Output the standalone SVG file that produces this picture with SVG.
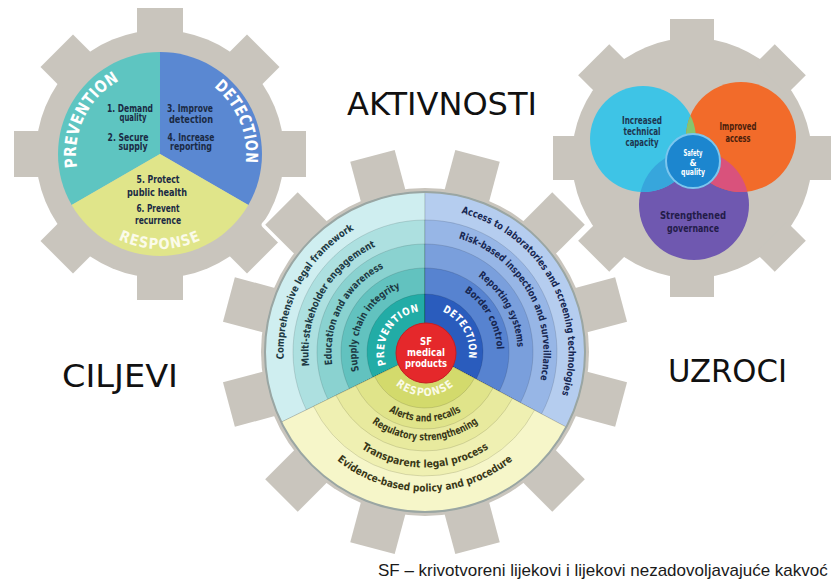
<svg xmlns="http://www.w3.org/2000/svg" width="838" height="581" viewBox="0 0 838 581">
<style>
.gear{fill:#c9c5bd}
.cond{font-family:"Liberation Sans Narrow","DejaVu Sans Condensed","Liberation Sans",sans-serif;font-stretch:condensed;font-weight:bold}
.mid{text-anchor:middle}
.ring{font-size:10px}
.tp{fill:#1d3a44}
.td{fill:#172752}
.tr{fill:#3a3818}
.band{stroke:#000;stroke-opacity:.12;stroke-width:1}
.lbl{fill:#fff}
.seg{font-size:10px;fill:#1a2a44}
.big{font-family:"DejaVu Sans",Verdana,sans-serif;font-size:32px;fill:#111}
</style>
<defs>
<g id="lg"><circle r="124"/><rect x="116" y="-23" width="30" height="46"/><rect x="116" y="-23" width="30" height="46" transform="rotate(45)"/><rect x="116" y="-23" width="30" height="46" transform="rotate(90)"/><rect x="116" y="-23" width="30" height="46" transform="rotate(135)"/><rect x="116" y="-23" width="30" height="46" transform="rotate(180)"/><rect x="116" y="-23" width="30" height="46" transform="rotate(225)"/><rect x="116" y="-23" width="30" height="46" transform="rotate(270)"/><rect x="116" y="-23" width="30" height="46" transform="rotate(315)"/></g>
<g id="rg"><circle r="120"/><rect x="112" y="-22" width="27" height="44"/><rect x="112" y="-22" width="27" height="44" transform="rotate(45)"/><rect x="112" y="-22" width="27" height="44" transform="rotate(90)"/><rect x="112" y="-22" width="27" height="44" transform="rotate(135)"/><rect x="112" y="-22" width="27" height="44" transform="rotate(180)"/><rect x="112" y="-22" width="27" height="44" transform="rotate(225)"/><rect x="112" y="-22" width="27" height="44" transform="rotate(270)"/><rect x="112" y="-22" width="27" height="44" transform="rotate(315)"/></g>
<g id="bg"><circle r="164"/><rect x="156" y="-23" width="47" height="46" transform="rotate(15)"/><rect x="156" y="-23" width="47" height="46" transform="rotate(45)"/><rect x="156" y="-23" width="47" height="46" transform="rotate(75)"/><rect x="156" y="-23" width="47" height="46" transform="rotate(105)"/><rect x="156" y="-23" width="47" height="46" transform="rotate(135)"/><rect x="156" y="-23" width="47" height="46" transform="rotate(165)"/><rect x="156" y="-23" width="47" height="46" transform="rotate(195)"/><rect x="156" y="-23" width="47" height="46" transform="rotate(225)"/><rect x="156" y="-23" width="47" height="46" transform="rotate(255)"/><rect x="156" y="-23" width="47" height="46" transform="rotate(285)"/><rect x="156" y="-23" width="47" height="46" transform="rotate(315)"/><rect x="156" y="-23" width="47" height="46" transform="rotate(345)"/></g>
<clipPath id="cyanClip"><circle cx="643" cy="139" r="53"/></clipPath>
<clipPath id="orangeClip"><circle cx="741" cy="137" r="55"/></clipPath>
<path id="pC" d="M304.36,425.93 A141.5,141.5 0 0 1 421.30,210.55"/>
<path id="pM" d="M325.14,412.00 A116.5,116.5 0 0 1 422.97,235.52"/>
<path id="pE" d="M345.71,401.55 A93.5,93.5 0 0 1 421.74,258.56"/>
<path id="pS" d="M367.88,389.81 A68.5,68.5 0 0 1 420.82,283.63"/>
<path id="pP" d="M392.69,377.24 A41,41 0 0 1 433.52,311.90"/>
<path id="dA" d="M414.99,208.85 A143.5,143.5 0 0 1 541.09,436.35"/>
<path id="dR" d="M425,233.5 A118.5,118.5 0 0 1 527.62,411.25"/>
<path id="dRe" d="M442.65,261.20 A92.5,92.5 0 0 1 511.36,385.15"/>
<path id="dB" d="M438.12,281.20 A72,72 0 0 1 492.44,377.21"/>
<path id="dD" d="M418.12,308.54 A44,44 0 0 1 458.21,380.87"/>
<path id="rA" d="M364.81,386.75 A69.5,69.5 0 0 0 485.19,386.75"/>
<path id="rR" d="M348.36,396.25 A88.5,88.5 0 0 0 501.64,396.25"/>
<path id="rT" d="M330.39,418.25 A115.5,115.5 0 0 0 519.61,418.25"/>
<path id="rE" d="M310.72,432.02 A139.5,139.5 0 0 0 539.28,432.02"/>
<path id="rL" d="M383.65,367.05 A44,44 0 0 0 466.35,367.05"/>
<path id="lP" d="M90.36,200.97 A84,84 0 0 1 154.14,70.20"/>
<path id="lD" d="M171.22,68.74 A86,86 0 0 1 228.23,206.36"/>
<path id="lR" d="M82.18,208.49 A95,95 0 0 0 237.82,208.49"/>
</defs>
<rect width="838" height="581" fill="#fff"/>

<g id="gear-left">
<use href="#lg" transform="translate(160,154)" class="gear"/>
<path d="M160,154 L71.67,205 A102,102 0 0 1 160,52 Z" fill="#5ec5c1"/>
<path d="M160,154 L160,52 A102,102 0 0 1 248.33,205 Z" fill="#5a88d2"/>
<path d="M160,154 L248.33,205 A102,102 0 0 1 71.67,205 Z" fill="#e0e58a"/>
<text class="cond lbl mid" font-size="16.5" letter-spacing="0.5"><textPath href="#lP" startOffset="50%" textLength="103" lengthAdjust="spacingAndGlyphs">PREVENTION</textPath></text>
<text class="cond lbl mid" font-size="16.5" letter-spacing="0.5"><textPath href="#lD" startOffset="50%" textLength="86" lengthAdjust="spacingAndGlyphs">DETECTION</textPath></text>
<text class="cond mid" font-size="15" letter-spacing="1" fill="#fbfbea"><textPath href="#lR" startOffset="50%" textLength="86" lengthAdjust="spacingAndGlyphs">RESPONSE</textPath></text>
<g class="cond seg mid">
<text x="130" y="112" textLength="46" lengthAdjust="spacingAndGlyphs">1. Demand</text>
<text x="133" y="121" textLength="27" lengthAdjust="spacingAndGlyphs">quality</text>
<text x="128" y="141" textLength="41" lengthAdjust="spacingAndGlyphs">2. Secure</text>
<text x="133" y="150" textLength="29" lengthAdjust="spacingAndGlyphs">supply</text>
<text x="190" y="112" textLength="46" lengthAdjust="spacingAndGlyphs">3. Improve</text>
<text x="191" y="123" textLength="44" lengthAdjust="spacingAndGlyphs">detection</text>
<text x="191" y="141" textLength="47" lengthAdjust="spacingAndGlyphs">4. Increase</text>
<text x="191" y="150" textLength="42" lengthAdjust="spacingAndGlyphs">reporting</text>
<text x="158" y="183" textLength="43" lengthAdjust="spacingAndGlyphs">5. Protect</text>
<text x="157" y="196" textLength="60" lengthAdjust="spacingAndGlyphs">public health</text>
<text x="158" y="212" textLength="43" lengthAdjust="spacingAndGlyphs">6. Prevent</text>
<text x="158" y="224" textLength="46" lengthAdjust="spacingAndGlyphs">recurrence</text>
</g>
</g>

<g id="gear-right">
<use href="#rg" transform="translate(692,158)" class="gear"/>
<circle cx="694" cy="205" r="55" fill="#6f58b0"/>
<circle cx="643" cy="139" r="53" fill="#3ec4e6"/>
<circle cx="741" cy="137" r="55" fill="#f26b2a"/>
<circle cx="741" cy="137" r="55" fill="#86c56e" clip-path="url(#cyanClip)"/>
<circle cx="694" cy="205" r="55" fill="#37a6dc" clip-path="url(#cyanClip)"/>
<circle cx="694" cy="205" r="55" fill="#d9527c" clip-path="url(#orangeClip)"/>
<circle cx="693" cy="161" r="27" fill="#1c86cf" stroke="#7cc6ee" stroke-width="2"/>
<g class="cond mid" font-size="10.5">
<text x="642" y="124" fill="#1d3550" textLength="40" lengthAdjust="spacingAndGlyphs">Increased</text>
<text x="642" y="135" fill="#1d3550" textLength="37" lengthAdjust="spacingAndGlyphs">technical</text>
<text x="642" y="146" fill="#1d3550" textLength="33" lengthAdjust="spacingAndGlyphs">capacity</text>
<text x="738" y="130" fill="#4a1e0c" textLength="37" lengthAdjust="spacingAndGlyphs">Improved</text>
<text x="738" y="142" fill="#4a1e0c" textLength="25" lengthAdjust="spacingAndGlyphs">access</text>
<text x="693" y="219" fill="#231c48" textLength="66" lengthAdjust="spacingAndGlyphs">Strengthened</text>
<text x="693" y="232" fill="#231c48" textLength="52" lengthAdjust="spacingAndGlyphs">governance</text>
</g>
<g class="cond mid" font-size="9" fill="#fff">
<text x="693" y="156" textLength="19" lengthAdjust="spacingAndGlyphs">Safety</text>
<text x="693" y="166">&amp;</text>
<text x="693" y="175" textLength="24" lengthAdjust="spacingAndGlyphs">quality</text>
</g>
</g>

<g id="gear-center">
<use href="#bg" transform="translate(425,352)" fill="#c9c5bd" stroke="#fff" stroke-width="7" stroke-linejoin="round"/>
<use href="#bg" transform="translate(425,352)" fill="#c9c5bd"/>
<g class="band">
<path d="M425,352 L281.19,422.14 A160,160 0 0 1 425,192 Z" fill="#cfeef0"/>
<path d="M425,352 L306.36,409.87 A132,132 0 0 1 425,220 Z" fill="#ade0e0"/>
<path d="M425,352 L327.93,399.35 A108,108 0 0 1 425,244 Z" fill="#8ad2d0"/>
<path d="M425,352 L349.50,388.83 A84,84 0 0 1 425,268 Z" fill="#62c2bf"/>
<path d="M425,352 L372.87,377.43 A58,58 0 0 1 425,294 Z" fill="#22aca6"/>
<path d="M425,352 L425,192 A160,160 0 0 1 566.26,427.12 Z" fill="#b5cdef"/>
<path d="M425,352 L425,220 A132,132 0 0 1 541.54,413.97 Z" fill="#97b6e6"/>
<path d="M425,352 L425,244 A108,108 0 0 1 520.35,402.71 Z" fill="#7a9fdc"/>
<path d="M425,352 L425,268 A84,84 0 0 1 499.16,391.44 Z" fill="#5783d0"/>
<path d="M425,352 L425,294 A58,58 0 0 1 476.21,379.23 Z" fill="#2a5cbd"/>
<path d="M425,352 L566.26,427.12 A160,160 0 0 1 281.19,422.14 Z" fill="#f6f6c9"/>
<path d="M425,352 L534.48,410.22 A124,124 0 0 1 313.55,406.36 Z" fill="#eff0b2"/>
<path d="M425,352 L512.41,398.48 A99,99 0 0 1 336.02,395.40 Z" fill="#e8ea9e"/>
<path d="M425,352 L492.98,388.15 A77,77 0 0 1 355.79,385.76 Z" fill="#e0e48a"/>
<path d="M425,352 L474.44,378.29 A56,56 0 0 1 374.67,376.55 Z" fill="#d3da6c"/>
</g>
<circle cx="425" cy="352" r="160" fill="none" stroke="#9aa6a3" stroke-width="2"/>
<g class="cond ring mid">
<text class="tp"><textPath href="#pC" startOffset="50%" textLength="155" lengthAdjust="spacingAndGlyphs">Comprehensive legal framework</textPath></text>
<text class="tp"><textPath href="#pM" startOffset="50%" textLength="146" lengthAdjust="spacingAndGlyphs">Multi-stakeholder engagement</textPath></text>
<text class="tp"><textPath href="#pE" startOffset="50%" textLength="117" lengthAdjust="spacingAndGlyphs">Education and awareness</textPath></text>
<text class="tp"><textPath href="#pS" startOffset="50%" textLength="101" lengthAdjust="spacingAndGlyphs">Supply chain integrity</textPath></text>
<text class="td"><textPath href="#dA" startOffset="50%" textLength="232" lengthAdjust="spacingAndGlyphs">Access to laboratories and screening technologies</textPath></text>
<text class="td"><textPath href="#dR" startOffset="50%" textLength="180" lengthAdjust="spacingAndGlyphs">Risk-based inspection and surveillance</textPath></text>
<text class="td"><textPath href="#dRe" startOffset="50%" textLength="84" lengthAdjust="spacingAndGlyphs">Reporting systems</textPath></text>
<text class="td"><textPath href="#dB" startOffset="50%" textLength="69" lengthAdjust="spacingAndGlyphs">Border control</textPath></text>
<text class="tr" font-size="10.5"><textPath href="#rA" startOffset="50%" textLength="76" lengthAdjust="spacingAndGlyphs">Alerts and recalls</textPath></text>
<text class="tr" font-size="10.5"><textPath href="#rR" startOffset="50%" textLength="114" lengthAdjust="spacingAndGlyphs">Regulatory strengthening</textPath></text>
<text class="tr" font-size="10.5"><textPath href="#rT" startOffset="50%" textLength="135" lengthAdjust="spacingAndGlyphs">Transparent legal process</textPath></text>
<text class="tr" font-size="10.5"><textPath href="#rE" startOffset="50%" textLength="190" lengthAdjust="spacingAndGlyphs">Evidence-based policy and procedure</textPath></text>
<text class="lbl" font-size="10.5" letter-spacing="0.8"><textPath href="#pP" startOffset="50%" textLength="72" lengthAdjust="spacingAndGlyphs">PREVENTION</textPath></text>
<text class="lbl" font-size="10.5" letter-spacing="0.8"><textPath href="#dD" startOffset="50%" textLength="58" lengthAdjust="spacingAndGlyphs">DETECTION</textPath></text>
<text font-size="11" letter-spacing="1" fill="#fbfbe8"><textPath href="#rL" startOffset="50%" textLength="64" lengthAdjust="spacingAndGlyphs">RESPONSE</textPath></text>
</g>
<circle cx="426" cy="353" r="30" fill="#e5282b" stroke="#c41e22" stroke-width="1"/>
<g class="cond mid lbl" font-size="10.5">
<text x="426" y="345" textLength="12" lengthAdjust="spacingAndGlyphs">SF</text>
<text x="426" y="356" textLength="38" lengthAdjust="spacingAndGlyphs">medical</text>
<text x="426" y="367" textLength="42" lengthAdjust="spacingAndGlyphs">products</text>
</g>
</g>

<g id="labels">
<text class="big" x="347" y="115" textLength="190" lengthAdjust="spacingAndGlyphs">AKTIVNOSTI</text>
<text class="big" x="62" y="387" textLength="116" lengthAdjust="spacingAndGlyphs">CILJEVI</text>
<text class="big" x="668" y="382" textLength="119" lengthAdjust="spacingAndGlyphs">UZROCI</text>
<text x="378" y="576" font-family="Liberation Sans, Arial, sans-serif" font-size="17" fill="#1a1a1a">SF – krivotvoreni lijekovi i lijekovi nezadovoljavajuće kakvoć</text>
</g>
</svg>
